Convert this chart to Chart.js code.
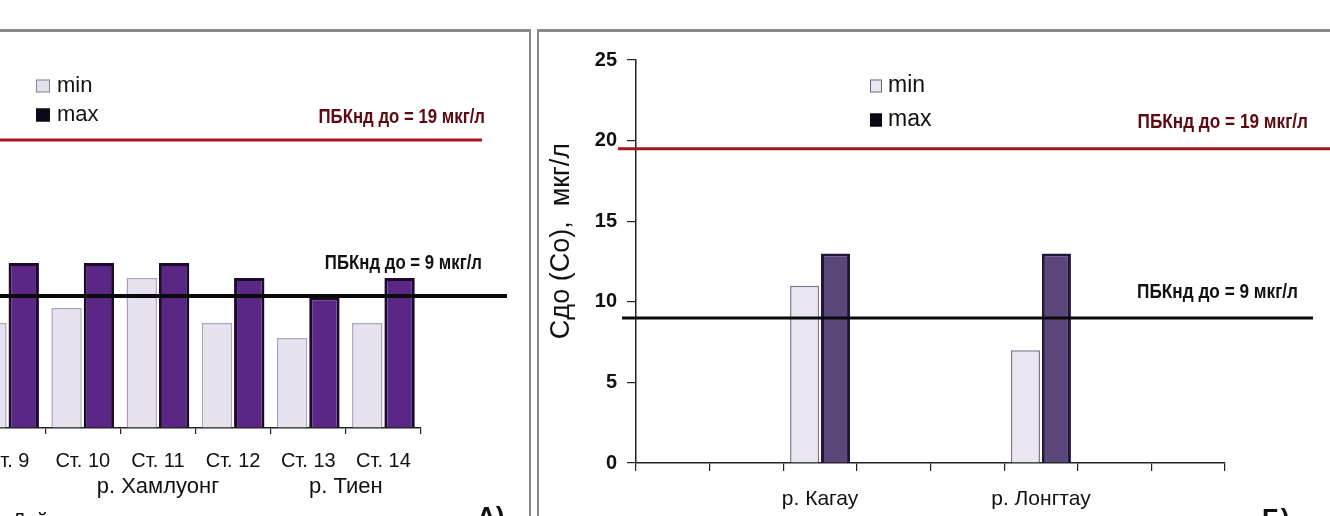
<!DOCTYPE html>
<html><head><meta charset="utf-8">
<script src="https://cdn.jsdelivr.net/npm/chart.js@4/dist/chart.umd.min.js"></script>
<style>
html,body{margin:0;padding:0;background:#fff;width:1330px;height:516px;overflow:hidden;position:relative;font-family:"Liberation Sans",Arial,sans-serif;}
#leftWrap{position:absolute;left:-130px;top:0;width:660px;height:516px;}
#rightWrap{position:absolute;left:537px;top:0;width:793px;height:516px;}
.border{position:absolute;background:#8a8a8a;}
.tag{position:absolute;font:bold 26px "Liberation Sans",Arial,sans-serif;color:#111;line-height:1;}
</style></head>
<body>
<div id="leftWrap"><canvas id="c1"></canvas></div>
<div id="rightWrap"><canvas id="c2"></canvas></div>
<div class="border" style="left:0;top:29px;width:531px;height:3px"></div>
<div class="border" style="left:529px;top:29px;width:2px;height:487px"></div>
<div class="border" style="left:537px;top:29px;width:793px;height:3px;border-top-left-radius:4px"></div>
<div class="border" style="left:537px;top:29px;width:2px;height:487px"></div>
<div class="tag" style="left:477px;top:503px">А)</div>
<div class="tag" style="left:1262px;top:505px">Б)</div>
<div class="tag" style="left:12px;top:510px;font-size:20px;font-weight:normal">Дай</div>
<script>
// ---- data ----
const seriesNames = ['min', 'max'];
const leftStations = ['Ст. 9', 'Ст. 10', 'Ст. 11', 'Ст. 12', 'Ст. 13', 'Ст. 14'];
const leftMin = [7, 8, 10, 7, 6, 7];
const leftMax = [11, 11, 11, 10, 8.7, 10];
const leftRivers = ['р. Хамлуонг', 'р. Тиен'];
const leftRiverFirst = ['Ст. 10', 'Ст. 13'];
const leftRiverLast = ['Ст. 12', 'Ст. 14'];
const leftLimits = [19.2, 8.8];
const rightCategories = ['', '', 'р. Кагау', '', '', 'р. Лонгтау', '', ''];
const rightMin = [null, null, 11, null, null, 7, null, null];
const rightMax = [null, null, 13, null, null, 13, null, null];
const rightLimits = [19.5, 9];
const limitLabels = ['ПБКнд до = 19 мкг/л', 'ПБКнд до = 9 мкг/л'];
const yMin = 0, yMax = 25, yStep = 5;
const yTitle = 'Сдо (Со),  мкг/л';

const FONT = '"Liberation Sans", Arial, sans-serif';

const decor = {
  id: 'decor',
  afterDatasetsDraw(chart, args, o) {
    const {ctx, chartArea: a, scales: {y}} = chart;
    (o.lines || []).forEach(l => {
      const py = y.getPixelForValue(l.value);
      ctx.save();
      ctx.strokeStyle = l.color; ctx.lineWidth = l.width;
      ctx.beginPath(); ctx.moveTo(a.left + l.from, py); ctx.lineTo(a.right + l.to, py); ctx.stroke();
      ctx.font = l.font; ctx.fillStyle = l.textColor;
      ctx.textAlign = 'right'; ctx.textBaseline = 'middle';
      ctx.translate(a.right + l.textRight, py - l.textDy);
      ctx.scale(l.squeeze, 1);
      ctx.fillText(l.text, 0, 0);
      ctx.restore();
    });
  },
  afterDraw(chart, args, o) {
    const {ctx, chartArea: a, scales: {x}} = chart;
    ctx.save();
    if (o.legend) {
      const L = o.legend;
      chart.data.datasets.forEach((ds, i) => {
        const cy = L.y + i * L.dy;
        const bx = a.left + L.x;
        ctx.fillStyle = ds.legendFill;
        ctx.fillRect(bx, cy - L.bh / 2, L.bw, L.bh);
        ctx.strokeStyle = ds.legendStroke; ctx.lineWidth = 1;
        ctx.strokeRect(bx + 0.5, cy - L.bh / 2 + 0.5, L.bw - 1, L.bh - 1);
        ctx.fillStyle = '#111'; ctx.font = L.font;
        ctx.textAlign = 'left'; ctx.textBaseline = 'middle';
        ctx.fillText(ds.label, bx + L.bw + L.gap, cy);
      });
    }
    if (o.groups) {
      const G = o.groups;
      ctx.fillStyle = '#111'; ctx.font = G.font; ctx.textAlign = 'center'; ctx.textBaseline = 'middle';
      G.names.forEach((n, i) => {
        const i1 = chart.data.labels.indexOf(G.first[i]);
        const i2 = chart.data.labels.indexOf(G.last[i]);
        const cx = (x.getPixelForValue(i1) + x.getPixelForValue(i2)) / 2;
        ctx.fillText(n, cx, G.y);
      });
    }
    if (o.yTitle) {
      const T = o.yTitle;
      ctx.translate(a.left + T.x, T.y);
      ctx.rotate(-Math.PI / 2);
      ctx.fillStyle = '#111'; ctx.font = T.font; ctx.textAlign = 'center'; ctx.textBaseline = 'middle';
      ctx.fillText(T.text, 0, 0);
    }
    ctx.restore();
  }
};

function yScale(w) {
  return {
    min: yMin, max: yMax,
    ticks: {stepSize: yStep, color: '#111', font: {family: FONT, size: 20, weight: 'bold'}, padding: 10},
    grid: {drawOnChartArea: false, drawTicks: true, tickLength: 9, color: '#222', lineWidth: 1.2},
    border: {display: true, color: '#222', width: 1.5},
    afterFit: s => { s.width = w; }
  };
}
function xScale(h, tl, pad, size) {
  return {
    offset: true,
    ticks: {color: '#111', font: {family: FONT, size: size}, padding: pad, maxRotation: 0, autoSkip: false},
    grid: {offset: true, drawOnChartArea: false, drawTicks: true, tickLength: tl, color: '#222', lineWidth: 1.2},
    border: {display: true, color: '#222', width: 1.5},
    afterFit: s => { s.height = h; }
  };
}

new Chart(document.getElementById('c1'), {
  type: 'bar',
  data: {
    labels: leftStations,
    datasets: [
      {label: seriesNames[0], data: leftMin, backgroundColor: '#e7e2ef', borderColor: '#aaa2bb', borderWidth: 1.5,
       legendFill: '#e4e0ec', legendStroke: '#8a8496'},
      {label: seriesNames[1], data: leftMax, backgroundColor: '#5b2787', borderColor: '#1b0b28', borderWidth: 3,
       legendFill: '#0d0818', legendStroke: '#0d0818'}
    ]
  },
  options: {
    responsive: true, maintainAspectRatio: false, animation: false,
    categoryPercentage: 0.86, barPercentage: 0.94,
    layout: {padding: {left: 0, right: 109, top: 53, bottom: 0}},
    scales: {x: xScale(88, 6, 15, 20), y: yScale(100)},
    plugins: {
      legend: {display: false}, tooltip: {enabled: false},
      decor: {
        lines: [
          {value: leftLimits[0], color: '#a3161c', width: 3, from: -120, to: 61, text: limitLabels[0],
           textColor: '#5e0a10', font: 'bold 20px ' + FONT, squeeze: 0.84, textRight: 64, textDy: 23},
          {value: leftLimits[1], color: '#0a0a0a', width: 4, from: -120, to: 86, text: limitLabels[1],
           textColor: '#111', font: 'bold 20px ' + FONT, squeeze: 0.84, textRight: 61, textDy: 33}
        ],
        legend: {x: 66, y: 86, dy: 29, bw: 14, bh: 13, gap: 7, font: '22px ' + FONT},
        groups: {names: leftRivers, first: leftRiverFirst, last: leftRiverLast, y: 487, font: '22px ' + FONT}
      }
    }
  },
  plugins: [decor]
});

new Chart(document.getElementById('c2'), {
  type: 'bar',
  data: {
    labels: rightCategories,
    datasets: [
      {label: seriesNames[0], data: rightMin, backgroundColor: '#e9e5f1', borderColor: '#7d7590', borderWidth: 1.5,
       legendFill: '#ebe7f2', legendStroke: '#6e6680'},
      {label: seriesNames[1], data: rightMax, backgroundColor: '#5b477a', borderColor: '#22153a', borderWidth: 3,
       legendFill: '#0d0818', legendStroke: '#0d0818'}
    ]
  },
  options: {
    responsive: true, maintainAspectRatio: false, animation: false,
    categoryPercentage: 0.84, barPercentage: 0.94,
    layout: {padding: {left: 0, right: 105, top: 60, bottom: 0}},
    scales: {x: xScale(53, 8, 16, 21), y: yScale(99)},
    plugins: {
      legend: {display: false}, tooltip: {enabled: false},
      decor: {
        lines: [
          {value: rightLimits[0], color: '#a3161c', width: 3, from: -18, to: 105, text: limitLabels[0],
           textColor: '#5e0a10', font: 'bold 20px ' + FONT, squeeze: 0.86, textRight: 83, textDy: 26},
          {value: rightLimits[1], color: '#0a0a0a', width: 3, from: -14, to: 88, text: limitLabels[1],
           textColor: '#111', font: 'bold 20px ' + FONT, squeeze: 0.86, textRight: 73, textDy: 25}
        ],
        legend: {x: 234, y: 86, dy: 34, bw: 12, bh: 13, gap: 6, font: '23px ' + FONT},
        yTitle: {text: yTitle, x: -74, y: 241, font: '27px ' + FONT}
      }
    }
  },
  plugins: [decor]
});
</script>
</body></html>
